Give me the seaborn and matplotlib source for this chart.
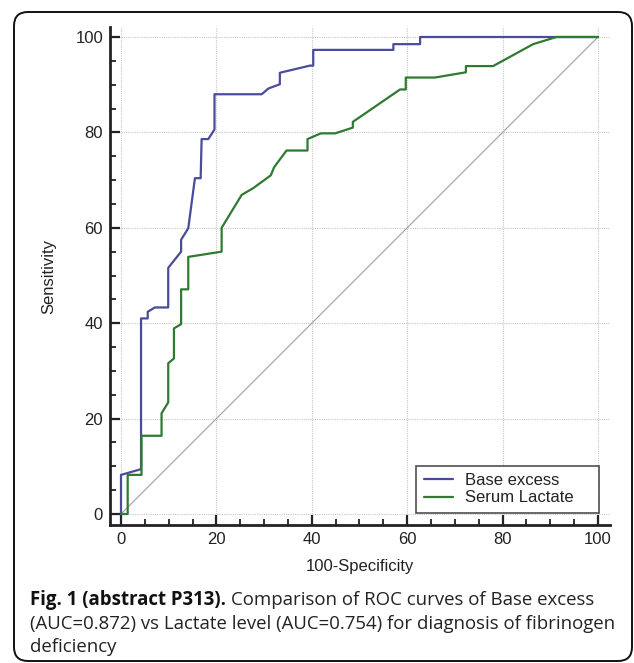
import matplotlib
matplotlib.use("Agg")
import matplotlib.pyplot as plt
from matplotlib.patches import FancyBboxPatch
from matplotlib.ticker import MultipleLocator
import numpy as np
import pandas as pd
import seaborn as sns

# ---- data ----
base_x = [0, 0, 4.2, 4.2, 5.6, 5.6, 7.1, 9.9, 9.9, 12.6, 12.6, 14.1, 15.5, 16.7, 16.9,
          18.3, 19.6, 19.6, 29.5, 30.9, 33.3, 33.3, 39.6, 40.3, 40.3, 57.1, 57.1, 62.7,
          62.7, 100]
base_y = [0, 8.2, 9.4, 41.0, 41.0, 42.4, 43.3, 43.3, 51.6, 55.0, 57.5, 59.9, 70.4, 70.4,
          78.6, 78.6, 80.6, 88.0, 88.0, 89.2, 90.1, 92.5, 94.0, 94.0, 97.3, 97.3, 98.5,
          98.5, 100, 100]
lact_x = [0, 1.4, 1.4, 4.3, 4.3, 8.5, 8.5, 9.9, 9.9, 11.1, 11.1, 12.6, 12.6, 14.1, 14.1,
          21.1, 21.1, 25.3, 27.7, 31.4, 32.1, 34.7, 39.1, 39.1, 41.9, 44.9, 48.6, 48.6,
          58.5, 59.7, 59.7, 65.8, 72.3, 72.3, 78.0, 86.4, 91.3, 100]
lact_y = [0, 0, 8.2, 8.2, 16.4, 16.4, 21.1, 23.4, 31.6, 32.6, 38.9, 39.8, 47.1, 47.1,
          53.9, 55.0, 60.0, 66.9, 68.3, 71.0, 72.7, 76.2, 76.2, 78.6, 79.8, 79.8, 81.0,
          82.2, 89.0, 89.0, 91.5, 91.5, 92.6, 93.9, 93.9, 98.5, 100, 100]
series_names = ["Base excess", "Serum Lactate"]
ref_x = [0, 100]
ref_y = [0, 100]
x_ticks = [0, 20, 40, 60, 80, 100]
y_ticks = [0, 20, 40, 60, 80, 100]

df_b = pd.DataFrame({"x": base_x, "y": base_y})
df_l = pd.DataFrame({"x": lact_x, "y": lact_y})

sns.set_theme(style="white")
plt.rcParams["font.family"] = ["Liberation Sans", "DejaVu Sans"]

W, H = 634, 663
fig = plt.figure(figsize=(W / 100, H / 100), dpi=100)

# rounded frame around the whole figure
frame = FancyBboxPatch((14 / W, 2 / H), (632 - 14) / W, (651 - 2) / H,
                       boxstyle="round,pad=0,rounding_size=0.022",
                       transform=fig.transFigure, fill=False, ec="#111111", lw=1.4,
                       mutation_aspect=W / H)
fig.patches.append(frame)

ax_l, ax_r, ax_t, ax_b = 110, 610, 27, 525
ax = fig.add_axes([ax_l / W, (H - ax_b) / H, (ax_r - ax_l) / W, (ax_b - ax_t) / H])

ax.plot(ref_x, ref_y, color="#a99c9c", lw=0.8, zorder=1)
sns.lineplot(data=df_b, x="x", y="y", sort=False, estimator=None, color="#4b4b9c",
             linewidth=1.6, ax=ax, label=series_names[0], zorder=3)
sns.lineplot(data=df_l, x="x", y="y", sort=False, estimator=None, color="#2f7a33",
             linewidth=1.6, ax=ax, label=series_names[1], zorder=3)

ax.set_xlim((ax_l - 121) / 4.77, (ax_r - 121) / 4.77)
ax.set_ylim((514 - ax_b) / 4.77, (514 - ax_t) / 4.77)
ax.set_xticks(x_ticks)
ax.set_yticks(y_ticks)
ax.xaxis.set_minor_locator(MultipleLocator(5))
ax.yaxis.set_minor_locator(MultipleLocator(5))
ax.grid(True, which="major", color="#c8c8c8", lw=0.8, ls=(0, (1, 1)))
for s in ["top", "right"]:
    ax.spines[s].set_visible(False)
for s in ["left", "bottom"]:
    ax.spines[s].set_color("#222222")
    ax.spines[s].set_linewidth(2.0)
ax.tick_params(which="major", direction="in", length=7.5, width=1.6, color="#222222",
               labelsize=12, pad=5, left=True, bottom=True, labelcolor="#222222")
ax.tick_params(which="minor", direction="in", length=4.5, width=1.3, color="#222222",
               left=True, bottom=True)
ax.set_xlabel("100-Specificity", fontsize=12, color="#222222", labelpad=9)
ax.set_ylabel("Sensitivity", fontsize=12, color="#222222", labelpad=14)

lx0 = (416 - ax_l) / (ax_r - ax_l)
lx1 = (599 - ax_l) / (ax_r - ax_l)
ly0 = (ax_b - 513) / (ax_b - ax_t)
ly1 = (ax_b - 462) / (ax_b - ax_t)
leg = ax.legend(loc="lower left", bbox_to_anchor=(lx0, ly0, lx1 - lx0, ly1 - ly0),
                mode="expand", fontsize=12, frameon=True, fancybox=False,
                edgecolor="#222222", handlelength=1.75, handletextpad=0.75,
                borderaxespad=0, labelspacing=0.15, borderpad=0.45)
leg.get_frame().set_linewidth(1.2)
for t in leg.get_texts():
    t.set_color("#222222")

cap_font = ["Open Sans", "DejaVu Sans"]
cap_size = 13.4
t1 = fig.text(30 / W, 1 - 600 / H, "Fig. 1 (abstract P313).", fontsize=cap_size,
              fontweight="bold", family=cap_font, va="center", ha="left", color="#111111")
fig.canvas.draw()
bb = t1.get_window_extent()
fig.text(bb.x1 / W + 5 / W, 1 - 600 / H, "Comparison of ROC curves of Base excess",
         fontsize=cap_size, family=cap_font, va="center", ha="left", color="#222222")
fig.text(30 / W, 1 - 624 / H,
         "(AUC=0.872) vs Lactate level (AUC=0.754) for diagnosis of fibrinogen",
         fontsize=cap_size, family=cap_font, va="center", ha="left", color="#222222")
fig.text(30 / W, 1 - 647 / H, "deficiency", fontsize=cap_size, family=cap_font,
         va="center", ha="left", color="#222222")

fig.savefig("out.png", dpi=100)
